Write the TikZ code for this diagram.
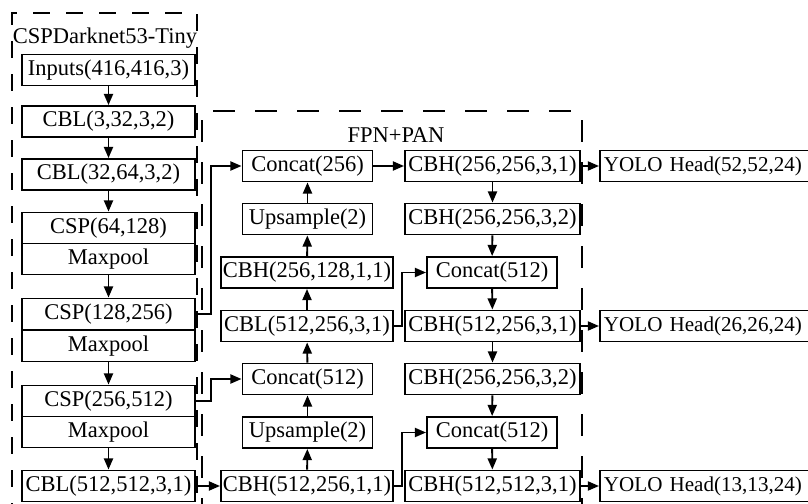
\documentclass[tikz,border=0pt]{standalone}
\usepackage{fontspec}
\setmainfont{Liberation Serif}
\usepackage{tikz}
\usetikzlibrary{arrows.meta,positioning,calc}
\tikzset{
  netlabel/.style={font=\fontsize{16}{19}\selectfont, text=black},
  netbox/.style={draw, line width=1.35pt, minimum height=0.775cm, inner sep=0pt, fill=white, netlabel},
  leftbox/.style={netbox, minimum width=4.325cm},
  widebox/.style={netbox, minimum width=4.3cm},
  rightbox/.style={netbox, minimum width=4.375cm},
  narrowbox/.style={netbox, minimum width=3.25cm},
  headbox/.style={netbox, anchor=west, inner xsep=0.1cm, text width=5.4cm, align=left, font=\fontsize{15}{19}\selectfont},
  netflow/.style={-{Triangle[length=8pt,width=6.5pt]}, line width=1.35pt},
  groupbox/.style={line width=1.35pt, dash pattern=on 0.425cm off 0.4cm},
  groupboxwide/.style={line width=1.35pt, dash pattern=on 0.55cm off 0.5cm}
}
\begin{document}
\begin{tikzpicture}[x=0.025cm, y=-0.025cm]
\useasboundingbox (0,0) rectangle (808,504);
% dashed groups
\draw[groupbox] (12,520) -- (12,13) -- (197,13) -- (197,520);
\draw[groupboxwide] (202,520) -- (202,111) -- (582,111) -- (582,520);
\node[netlabel] (bbtitle) at (105,38) {CSPDarknet53-Tiny};
\node[netlabel] (necktitle) at (396,135) {FPN+PAN};

% backbone
\node[leftbox] (inp) at (108.5,70) {Inputs(416,416,3)};
\node[leftbox] (cbla) at (108.5,121.5) {CBL(3,32,3,2)};
\node[leftbox] (cblb) at (108.5,174.5) {CBL(32,64,3,2)};
\node[leftbox] (cspa) at (108.5,228) {CSP(64,128)};
\node[leftbox] (mpa) at (108.5,259) {Maxpool};
\node[leftbox] (cspb) at (108.5,314) {CSP(128,256)};
\node[leftbox] (mpb) at (108.5,346) {Maxpool};
\node[leftbox] (cspc) at (108.5,401) {CSP(256,512)};
\node[leftbox] (mpc) at (108.5,432) {Maxpool};
\node[leftbox] (cblc) at (108.5,486) {CBL(512,512,3,1)};

% FPN (upward path)
\node[narrowbox] (cat1) at (307.5,166) {Concat(256)};
\node[narrowbox] (up1) at (307.5,219) {Upsample(2)};
\node[widebox] (cbh1) at (307,272.5) {CBH(256,128,1,1)};
\node[widebox] (cbl2) at (307,326) {CBL(512,256,3,1)};
\node[narrowbox] (cat2) at (307.5,379) {Concat(512)};
\node[narrowbox] (up2) at (307.5,432.5) {Upsample(2)};
\node[widebox] (cbh2) at (307,486) {CBH(512,256,1,1)};

% PAN (downward path)
\node[rightbox] (cbh3) at (492.5,166) {CBH(256,256,3,1)};
\node[rightbox] (cbh4) at (492.5,219) {CBH(256,256,3,2)};
\node[narrowbox] (cat3) at (492,272.5) {Concat(512)};
\node[rightbox] (cbh5) at (492.5,326) {CBH(512,256,3,1)};
\node[rightbox] (cbh6) at (492.5,379) {CBH(256,256,3,2)};
\node[narrowbox] (cat4) at (492,432.5) {Concat(512)};
\node[rightbox] (cbh7) at (492.5,486) {CBH(512,512,3,1)};

% heads
\node[headbox] (yolo1) at (599,166) {YOLO Head(52,52,24)};
\node[headbox] (yolo2) at (599,326) {YOLO Head(26,26,24)};
\node[headbox] (yolo3) at (599,486) {YOLO Head(13,13,24)};

% backbone arrows
\draw[netflow] (inp) -- (cbla);
\draw[netflow] (cbla) -- (cblb);
\draw[netflow] (cblb) -- (cspa);
\draw[netflow] (mpa) -- (cspb);
\draw[netflow] (mpb) -- (cspc);
\draw[netflow] (mpc) -- (cblc);

% lateral links
\draw[netflow] (cspb.east) -- ++(15,0) |- (cat1.west);
\draw[netflow] (cspc.east) -- ++(15,0) |- (cat2.west);
\draw[netflow] (cblc) -- (cbh2);
\draw[netflow] (cbl2.east) -- ++(8,0) |- (cat3.west);
\draw[netflow] (cbh2.east) -- ++(8,0) |- (cat4.west);

% upward path
\draw[netflow] (cbh2) -- (up2);
\draw[netflow] (up2) -- (cat2);
\draw[netflow] (cat2) -- (cbl2);
\draw[netflow] (cbl2) -- (cbh1);
\draw[netflow] (cbh1) -- (up1);
\draw[netflow] (up1) -- (cat1);
\draw[netflow] (cat1) -- (cbh3);

% downward path
\draw[netflow] (cbh3) -- (cbh4);
\draw[netflow] (cbh4) -- (cat3);
\draw[netflow] (cat3) -- (cbh5);
\draw[netflow] (cbh5) -- (cbh6);
\draw[netflow] (cbh6) -- (cat4);
\draw[netflow] (cat4) -- (cbh7);

% outputs
\draw[netflow] (cbh3) -- (yolo1);
\draw[netflow] (cbh5) -- (yolo2);
\draw[netflow] (cbh7) -- (yolo3);
\end{tikzpicture}
\end{document}
